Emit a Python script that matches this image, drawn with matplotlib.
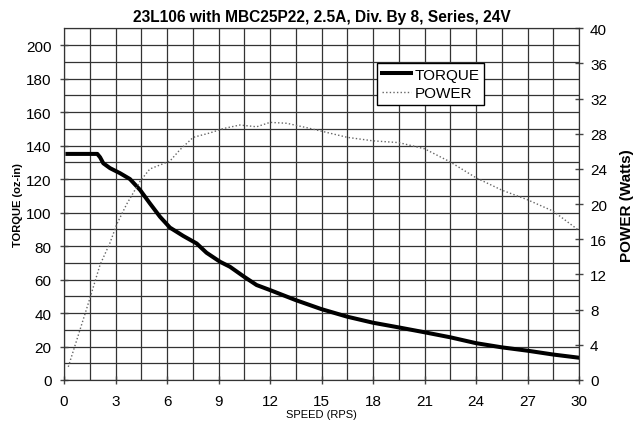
import matplotlib
matplotlib.use("Agg")
import matplotlib.pyplot as plt
from matplotlib.ticker import MultipleLocator

plt.rcParams['font.family'] = ['Liberation Sans', 'DejaVu Sans']

title = "23L106 with MBC25P22, 2.5A, Div. By 8, Series, 24V"

torque_speed = [0.2, 1.0, 1.94, 2.1, 2.29, 2.68, 3.26, 3.84, 4.43, 5.0, 5.59, 6.17, 6.95, 7.73, 8.3, 9.09, 9.67, 10.5, 11.22, 12.0, 13.5, 15.0, 16.5, 18.0, 19.5, 21.0, 22.5, 24.0, 25.5, 27.0, 28.5, 30.0]
torque_vals  = [135, 135, 135, 133, 129.4, 126.5, 123.5, 120, 113.5, 105.5, 97.5, 91, 86, 81.5, 76, 70.6, 67.6, 61.6, 56.7, 53.7, 47.7, 42.3, 37.8, 34.2, 31.4, 28.5, 25.5, 22, 19.5, 17.5, 15.2, 13.3]

power_speed = [0.25, 0.93, 1.51, 2.1, 2.68, 3.07, 3.65, 4.43, 5.0, 6.17, 6.76, 7.53, 8.5, 9.28, 10.25, 11.22, 12.0, 12.97, 14.13, 15.0, 16.5, 18.0, 19.5, 21.0, 22.5, 24.0, 25.5, 27.0, 28.5, 30.0]
power_vals  = [1.5, 5.7, 9.3, 13.1, 15.6, 17.7, 20.0, 22.6, 24.0, 24.9, 26.2, 27.6, 28.1, 28.6, 29.0, 28.8, 29.3, 29.2, 28.7, 28.3, 27.6, 27.2, 27.0, 26.3, 24.8, 23.0, 21.6, 20.5, 19.2, 17.0]

fig = plt.figure(figsize=(6.37, 4.31), dpi=100)
ax = fig.add_axes([64/637, 1-381/431, 515/637, 351.7/431])
ax2 = ax.twinx()

ax.set_xlim(0, 30)
ax.set_ylim(0, 210)
ax2.set_ylim(0, 40)

ax.xaxis.set_major_locator(MultipleLocator(3))
ax.xaxis.set_minor_locator(MultipleLocator(1.5))
ax.yaxis.set_major_locator(MultipleLocator(20))
ax.yaxis.set_minor_locator(MultipleLocator(10))
ax2.yaxis.set_major_locator(MultipleLocator(4))

ax.grid(which='both', color='#333333', linewidth=0.9)
ax.set_axisbelow(True)

ax.tick_params(axis='both', which='major', direction='inout', length=6, width=1, labelsize=11, color='#444444')
ax.tick_params(axis='both', which='minor', length=0)
ax.tick_params(axis='y', pad=6)
ax.tick_params(axis='x', pad=7)
ax2.tick_params(axis='y', which='major', direction='inout', length=6, width=1, labelsize=11, color='#444444', pad=5)

for s in ax.spines.values():
    s.set_color('#333333')
for s in ax2.spines.values():
    s.set_color('#333333')

l1, = ax.plot(torque_speed, torque_vals, color='black', linewidth=2.9, label='TORQUE', zorder=5)
l2, = ax2.plot(power_speed, power_vals, color='#666666', linewidth=1.0, linestyle=(0, (1, 1.6)), label='POWER', zorder=4)

ax.set_title(title, fontsize=11.2, fontweight='bold', pad=5)
ax.set_xlabel('SPEED (RPS)', fontsize=8, labelpad=1)
ax.set_ylabel('TORQUE (oz-in)', fontsize=8, fontweight='bold', labelpad=2)
ax2.set_ylabel('POWER (Watts)', fontsize=11, fontweight='bold', labelpad=9)

leg = ax2.legend([l1, l2], ['TORQUE', 'POWER'], loc='upper left', bbox_to_anchor=(0.608, 0.901),
                 fontsize=11, frameon=True, fancybox=False, framealpha=1, edgecolor='black',
                 handlelength=1.9, handletextpad=0.25, borderpad=0.3, labelspacing=0.3, borderaxespad=0)
leg.get_frame().set_linewidth(1.0)

fig.savefig('out.png', dpi=100)
